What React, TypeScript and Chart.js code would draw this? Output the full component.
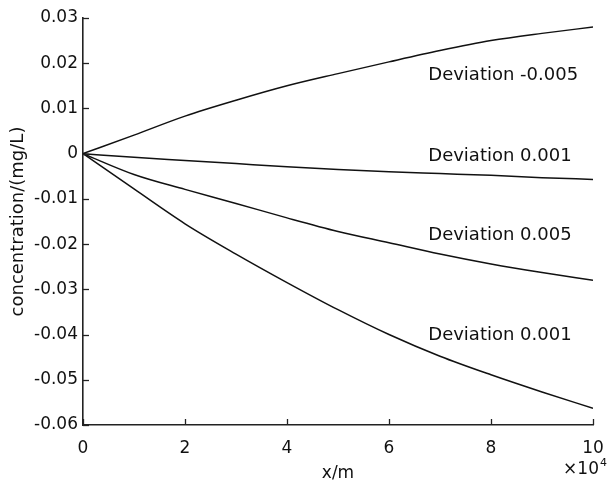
import React, { useEffect, useRef } from 'react';
import { Chart, registerables } from 'chart.js';
Chart.register(...registerables);

// x in units of 10^4 m
const xValues = [0, 1, 2, 3, 4, 5, 6, 7, 8, 9, 10];
const devNeg005 = [0, 0.0041, 0.0083, 0.0118, 0.015, 0.0177, 0.0203, 0.0228, 0.025, 0.0266, 0.028];
const dev001Upper = [0, -0.0008, -0.0015, -0.0022, -0.0029, -0.0035, -0.004, -0.0044, -0.0048, -0.0053, -0.0057];
const dev005 = [0, -0.0046, -0.0079, -0.011, -0.0142, -0.0172, -0.0197, -0.0222, -0.0244, -0.0263, -0.028];
const dev001Lower = [0, -0.0078, -0.0155, -0.0222, -0.0285, -0.0345, -0.04, -0.0448, -0.0489, -0.0527, -0.0563];

const seriesList = [devNeg005, dev001Upper, dev005, dev001Lower];
const annotationTexts = ['Deviation -0.005', 'Deviation 0.001', 'Deviation 0.005', 'Deviation 0.001'];
const annotationX = [6.77, 6.77, 6.77, 6.77];
const annotationY = [0.0174, -0.0006, -0.0181, -0.0401];

const xTitle = 'x/m';
const yTitle = 'concentration/(mg/L)';
const exponentBase = '×10';
const exponentPower = '4';

const FONT = "'DejaVu Sans', sans-serif";

const overlayPlugin = {
  id: 'overlay',
  afterDatasetsDraw(chart: any) {
    const ctx = chart.ctx;
    const xs = chart.scales.x;
    const ys = chart.scales.y;
    const area = chart.chartArea;
    ctx.save();
    ctx.strokeStyle = '#222';
    ctx.lineWidth = 1.3;
    xs.ticks.forEach((t: any) => {
      const px = Math.round(xs.getPixelForValue(t.value)) + 0.5;
      ctx.beginPath();
      ctx.moveTo(px, area.bottom);
      ctx.lineTo(px, area.bottom - 6);
      ctx.stroke();
    });
    ys.ticks.forEach((t: any) => {
      const py = Math.round(ys.getPixelForValue(t.value)) + 0.5;
      ctx.beginPath();
      ctx.moveTo(area.left, py);
      ctx.lineTo(area.left + 6, py);
      ctx.stroke();
    });
    ctx.fillStyle = '#111';
    ctx.font = `18px ${FONT}`;
    ctx.textBaseline = 'middle';
    ctx.textAlign = 'left';
    annotationTexts.forEach((txt, i) => {
      ctx.fillText(txt, xs.getPixelForValue(annotationX[i]), ys.getPixelForValue(annotationY[i]));
    });
    ctx.font = `17px ${FONT}`;
    ctx.textAlign = 'right';
    const baseRight = area.right + 6;
    ctx.fillText(exponentBase, baseRight, area.bottom + 45);
    ctx.font = `11px ${FONT}`;
    ctx.textAlign = 'left';
    ctx.fillText(exponentPower, baseRight + 1, area.bottom + 38);
    ctx.restore();
  },
};

export default function App() {
  const ref = useRef<HTMLCanvasElement | null>(null);
  useEffect(() => {
    document.body.style.margin = '0';
    if (!ref.current) return;
    const chart = new Chart(ref.current, {
      type: 'line',
      data: {
        datasets: seriesList.map((s) => ({
          data: s.map((v, i) => ({ x: xValues[i], y: v })),
          borderColor: '#111',
          borderWidth: 1.5,
          pointRadius: 0,
          tension: 0.4,
          cubicInterpolationMode: 'monotone' as const,
          fill: false,
        })),
      },
      options: {
        animation: false,
        responsive: false,
        devicePixelRatio: 1,
        layout: { padding: { top: 18, right: 14, left: 0, bottom: 0 } },
        plugins: { legend: { display: false }, tooltip: { enabled: false } },
        scales: {
          x: {
            type: 'linear',
            min: 0,
            max: 10,
            ticks: { stepSize: 2, color: '#111', font: { size: 17, family: FONT }, padding: 13, maxRotation: 0 },
            grid: { display: false, drawTicks: false },
            border: { display: true, color: '#222', width: 1.6 },
            title: { display: true, text: xTitle, color: '#111', font: { size: 17, family: FONT }, padding: { top: 0, bottom: -2 } },
            afterFit: (s: any) => { s.height = 57; s.paddingLeft = 0; s.paddingRight = 0; },
          },
          y: {
            type: 'linear',
            min: -0.06,
            max: 0.03,
            ticks: {
              stepSize: 0.01,
              color: '#111',
              font: { size: 17, family: FONT },
              padding: 5,
              callback: (v: any) => {
                const n = Number(Number(v).toFixed(2));
                return n === 0 ? '0' : String(n);
              },
            },
            grid: { display: false, drawTicks: false },
            border: { display: true, color: '#222', width: 1.6 },
            title: { display: true, text: yTitle, color: '#111', font: { size: 18, family: FONT }, padding: { top: 8, bottom: 0 } },
            afterFit: (s: any) => { s.width = 83; s.paddingTop = 0; s.paddingBottom = 0; },
          },
        },
      },
      plugins: [overlayPlugin],
    });
    return () => chart.destroy();
  }, []);
  return (
    <div style={{ width: 607, height: 482, background: '#fff' }}>
      <canvas ref={ref} width={607} height={482} />
    </div>
  );
}
